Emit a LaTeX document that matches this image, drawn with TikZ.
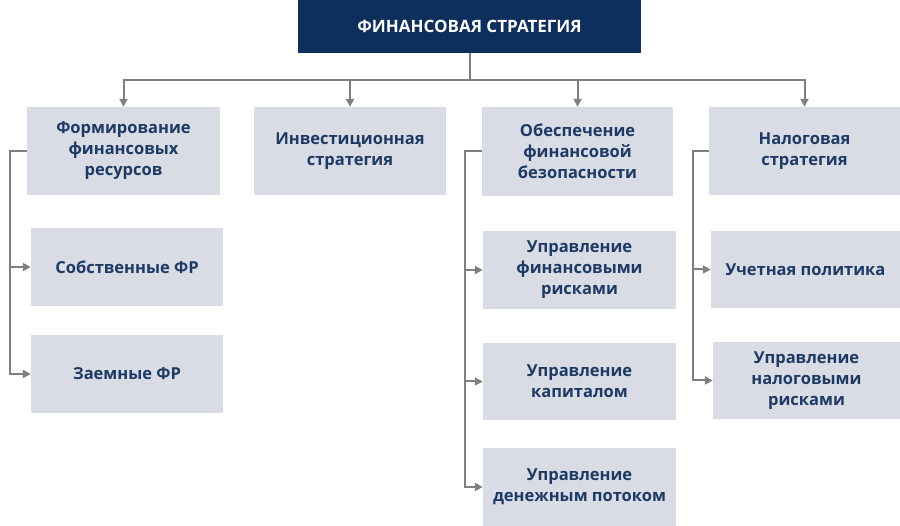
\documentclass[tikz,border=0pt]{standalone}
\usepackage{fontspec}
\setmainfont{Open Sans}
\usetikzlibrary{arrows.meta, positioning}
\definecolor{navy}{HTML}{0E2F5E}
\definecolor{boxgray}{HTML}{D9DBE5}
\definecolor{textnavy}{HTML}{1C3A64}
\definecolor{linegray}{HTML}{7F7F7F}
\tikzset{
    topbox/.style={
           rectangle,
           fill=navy, draw=none,
           text=white,
           font=\fontsize{17}{21}\selectfont\bfseries,
           inner sep=0pt,
           },
    item/.style={
           rectangle,
           fill=boxgray, draw=none,
           text=textnavy,
           font=\fontsize{16.5}{21}\selectfont\bfseries,
           align=center,
           inner sep=0pt,
           },
    boxsize/.style 2 args={
           minimum width=#1pt, minimum height=#2pt,
           },
    link/.style={
           draw=linegray, line width=2pt,
           -{Triangle[length=8pt, width=8pt]},
           },
}
\begin{document}
\begin{tikzpicture}[x=1pt, y=-1pt]
      \useasboundingbox (0,0) rectangle (900,526);
      \node[topbox, boxsize={343}{53}]  (fs) at (469.5, 26.5) {ФИНАНСОВАЯ СТРАТЕГИЯ};
      % main strategies
      \node[item, boxsize={193}{88}]    (fr) at (123.5, 151)   {Формирование\\финансовых\\ресурсов};
      \node[item, boxsize={192}{88}]    (is) at (350, 151)     {Инвестиционная\\стратегия};
      \node[item, boxsize={191}{89}]    (fb) at (577.5, 151.5) {Обеспечение\\финансовой\\безопасности};
      \node[item, boxsize={191}{88}]    (ns) at (804.5, 151)   {Налоговая\\стратегия};
      % sub items
      \node[item, boxsize={192}{78}]    (sfr) at (127, 267)    {Собственные ФР};
      \node[item, boxsize={192}{78}]    (zfr) at (127, 374)    {Заемные ФР};
      \node[item, boxsize={193}{78}]    (ufr) at (579.5, 270)  {Управление\\финансовыми\\рисками};
      \node[item, boxsize={193}{77}]    (uk)  at (579.5, 381.5) {Управление\\капиталом};
      \node[item, boxsize={193}{78}]    (udp) at (579.5, 487)  {Управление\\денежным потоком};
      \node[item, boxsize={189}{77}]    (up)  at (805.5, 269.5) {Учетная политика};
      \node[item, boxsize={187}{77}]    (unr) at (806.5, 380.5) {Управление\\налоговыми\\рисками};
      % connectors
      \draw[link] (fs.south) -- ++(0,27) -| (fr.north);
      \draw[link] (fs.south) -- ++(0,27) -| (is.north);
      \draw[link] (fs.south) -- ++(0,27) -| (fb.north);
      \draw[link] (fs.south) -- ++(0,27) -| (ns.north);
      \draw[link] (fr.west) -- ++(-17,0) |- (sfr.west);
      \draw[link] (fr.west) -- ++(-17,0) |- (zfr.west);
      \draw[link] (fb.west) -- ++(-17,0) |- (ufr.west);
      \draw[link] (fb.west) -- ++(-17,0) |- (uk.west);
      \draw[link] (fb.west) -- ++(-17,0) |- (udp.west);
      \draw[link] (ns.west) -- ++(-16,0) |- (up.west);
      \draw[link] (ns.west) -- ++(-16,0) |- (unr.west);
\end{tikzpicture}
\end{document}
